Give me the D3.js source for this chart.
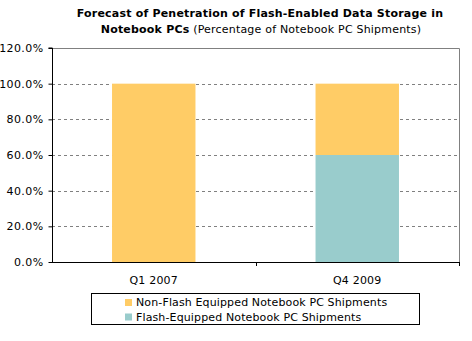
<!DOCTYPE html>
<html><head><meta charset="utf-8">
<script src="https://cdn.jsdelivr.net/npm/d3@7"></script>
<style>body{margin:0;background:#fff}svg{display:block}text{font-family:"DejaVu Sans",Verdana,sans-serif}</style>
</head><body>
<script>
const categories = ["Q1 2007", "Q4 2009"];
const seriesNames = ["Non-Flash Equipped Notebook PC Shipments", "Flash-Equipped Notebook PC Shipments"];
const nonFlash = [100, 40];
const flash = [0, 60];
const yTicks = [0, 20, 40, 60, 80, 100, 120];
const colors = ["#FFCC66", "#99CCCC"];

const W = 472, H = 341;
const m = {l: 52, r: 13, t: 48, b: 79};
const svg = d3.select("body").append("svg").attr("width", W).attr("height", H);
const x = d3.scaleBand().domain(categories).range([m.l, W - m.r]).paddingInner(0).paddingOuter(0);
const y = d3.scaleLinear().domain([0, 120]).range([H - m.b, m.t]);

// title
const t = svg.append("text").attr("text-anchor", "middle").attr("font-size", 11).attr("fill", "#000").attr("letter-spacing", 0.2);
t.append("tspan").attr("x", 260).attr("y", 17).attr("font-weight", "bold").text("Forecast of Penetration of Flash-Enabled Data Storage in");
const t2 = t.append("tspan").attr("x", 261).attr("y", 33);
t2.append("tspan").attr("font-weight", "bold").text("Notebook PCs");
t2.append("tspan").text(" (Percentage of Notebook PC Shipments)");

// gridlines
svg.append("g").selectAll("line").data(yTicks.filter(d => d > 0 && d < 120)).join("line")
  .attr("x1", m.l).attr("x2", W - m.r).attr("y1", d => Math.round(y(d)) + 0.5).attr("y2", d => Math.round(y(d)) + 0.5)
  .attr("stroke", "#808080").attr("stroke-dasharray", "3,3");
// top and right border
svg.append("path").attr("d", `M${m.l},${y(120)+0.5}H${W - m.r + 0.5}V${H - m.b}`).attr("fill", "none").attr("stroke", "#808080");

// bars
const stack = categories.map((c, i) => ({c, f: flash[i], n: nonFlash[i]}));
const bw = x.bandwidth() * 0.41;
const g = svg.append("g");
g.selectAll("rect.f").data(stack).join("rect").attr("class", "f")
  .attr("x", d => x(d.c) + x.bandwidth() / 2 - bw / 2).attr("width", bw)
  .attr("y", d => y(d.f)).attr("height", d => y(0) - y(d.f)).attr("fill", colors[1]);
g.selectAll("rect.n").data(stack).join("rect").attr("class", "n")
  .attr("x", d => x(d.c) + x.bandwidth() / 2 - bw / 2).attr("width", bw)
  .attr("y", d => y(d.f + d.n)).attr("height", d => y(d.f) - y(d.f + d.n)).attr("fill", colors[0]);

// y axis
const ya = svg.append("g").attr("transform", `translate(${m.l + 0.5},0)`)
  .call(d3.axisLeft(y).tickValues(yTicks).tickFormat(d => d.toFixed(1) + "%").tickSize(4).tickPadding(5));
ya.selectAll("text").attr("font-size", 11).attr("font-family", "DejaVu Sans").attr("fill", "#000").attr("letter-spacing", 0.4);
ya.selectAll("line,path").attr("stroke", "#000");
ya.select("path").attr("d", `M-4,${y(120)}H0V${y(0)}`);

// x axis
const xa = svg.append("g").attr("transform", `translate(0,${y(0) + 0.5})`)
  .call(d3.axisBottom(x).tickSize(0).tickPadding(14));
xa.select("path").attr("stroke", "#000").attr("d", `M${m.l},0H${W - m.r + 0.5}`);
xa.selectAll("text").attr("font-size", 11).attr("font-family", "DejaVu Sans").attr("fill", "#000").attr("letter-spacing", 0.2);
svg.append("g").selectAll("line").data([m.l + x.bandwidth(), W - m.r]).join("line")
  .attr("x1", d => Math.round(d) + 0.5).attr("x2", d => Math.round(d) + 0.5)
  .attr("y1", y(0)).attr("y2", y(0) + 4).attr("stroke", "#000");

// legend
const lg = svg.append("g");
lg.append("rect").attr("x", 91.5).attr("y", 293.5).attr("width", 328).attr("height", 31).attr("fill", "#fff").attr("stroke", "#000");
const items = lg.selectAll("g").data(seriesNames).join("g").attr("transform", (d, i) => `translate(125,${299 + i * 14.5})`);
items.append("rect").attr("width", 7).attr("height", 7).attr("fill", (d, i) => colors[i]);
items.append("text").attr("x", 11).attr("y", 7).attr("font-size", 11).attr("fill", "#000").attr("letter-spacing", 0.13).text(d => d);
</script>
</body></html>
